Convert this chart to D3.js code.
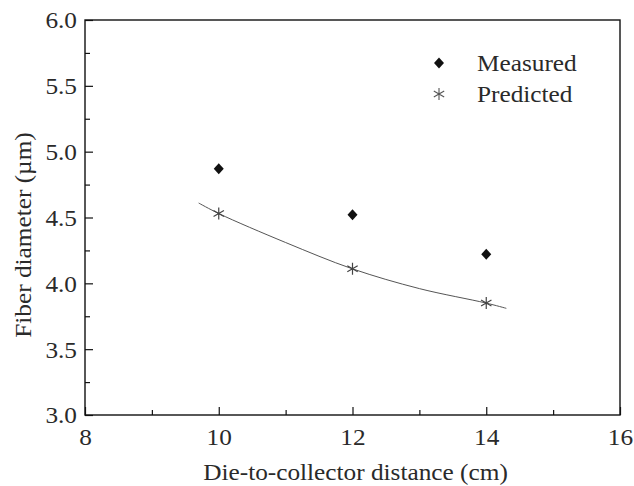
<!DOCTYPE html>
<html>
<head>
    <meta charset="utf-8">
    <title>Fiber diameter vs distance</title>
    <script type="text/javascript" src="https://cdn.jsdelivr.net/npm/d3@7"></script>
    <style type="text/css">
        body { margin: 0; background: #fff; }
        svg { display: block; }
        text { font-family: "Liberation Serif", "Times New Roman", serif; fill: #2a2a2a; }
    </style>
</head>
<body>
<script type="text/javascript">
    // data
    var distance = [10, 12, 14];
    var measured = [4.87, 4.52, 4.22];
    var predicted = [4.53, 4.11, 3.85];
    // fitted curve through the predicted values (read at a few x positions)
    var fitX = [9.7, 10, 11, 12, 13, 14, 14.3];
    var fitY = [4.61, 4.53, 4.31, 4.11, 3.96, 3.85, 3.81];
    var xTicks = [8, 10, 12, 14, 16];
    var xMinor = [9, 11, 13, 15];
    var yTicks = [3.0, 3.5, 4.0, 4.5, 5.0, 5.5, 6.0];
    var yMinor = [3.25, 3.75, 4.25, 4.75, 5.25, 5.75];
    var legendNames = ["Measured", "Predicted"];

    var w = 634, h = 486;
    var m = {left: 85, right: 620, top: 20, bottom: 415};
    var fontSize = "23px";
    var stretch = 1.1; // the source font is drawn a bit wide

    var svg = d3.select("body").append("svg")
        .attr("width", w)
        .attr("height", h);

    var x = d3.scaleLinear().domain([8, 16]).range([m.left, m.right]);
    var y = d3.scaleLinear().domain([3, 6]).range([m.bottom, m.top]);

    // frame
    svg.append("rect")
        .attr("x", m.left).attr("y", m.top)
        .attr("width", m.right - m.left).attr("height", m.bottom - m.top)
        .attr("fill", "none").attr("stroke", "#111").attr("stroke-width", 1.4);

    // axes, ticks pointing inward
    var xAxis = svg.append("g").attr("transform", "translate(0," + m.bottom + ")")
        .call(d3.axisBottom(x).tickValues(xTicks).tickSizeInner(-8).tickSizeOuter(0)
            .tickFormat(d3.format("d")));
    svg.append("g").attr("transform", "translate(0," + m.bottom + ")")
        .call(d3.axisBottom(x).tickValues(xMinor).tickSize(-5).tickFormat(""));

    var yAxis = svg.append("g").attr("transform", "translate(" + m.left + ",0)")
        .call(d3.axisLeft(y).tickValues(yTicks).tickSizeInner(-8).tickSizeOuter(0)
            .tickFormat(d3.format(".1f")));
    svg.append("g").attr("transform", "translate(" + m.left + ",0)")
        .call(d3.axisLeft(y).tickValues(yMinor).tickSize(-5).tickFormat(""));

    svg.selectAll(".domain").remove();
    svg.selectAll(".tick line").attr("stroke", "#111").attr("stroke-width", 1.2);
    svg.selectAll(".tick text")
        .style("font-family", '"Liberation Serif", "Times New Roman", serif')
        .style("font-size", fontSize).attr("fill", "#2a2a2a")
        .attr("transform", "scale(" + stretch + ",1)");
    xAxis.selectAll(".tick text").attr("y", 14).attr("dy", "0.71em");
    yAxis.selectAll(".tick text").attr("x", -8 / stretch).attr("dy", "0.34em");

    // axis titles
    svg.append("text")
        .attr("transform", "translate(" + ((m.left + m.right) / 2 + 3) + ",480) scale(" + stretch + ",1)")
        .attr("text-anchor", "middle")
        .style("font-size", fontSize)
        .text("Die-to-collector distance (cm)");

    svg.append("text")
        .attr("transform", "translate(31,235) rotate(-90) scale(" + stretch + ",1)")
        .attr("text-anchor", "middle")
        .style("font-size", fontSize)
        .text("Fiber diameter (\u00b5m)");

    // fit curve
    var line = d3.line()
        .x(function (d) { return x(d[0]); })
        .y(function (d) { return y(d[1]); })
        .curve(d3.curveCatmullRom);
    svg.append("path")
        .datum(d3.zip(fitX, fitY))
        .attr("d", line)
        .attr("fill", "none").attr("stroke", "#555").attr("stroke-width", 1);

    var diamond = "M0,-5.5L5,0L0,5.5L-5,0Z";
    var star = "M0,-6V6M-5.2,-3L5.2,3M-5.2,3L5.2,-3";

    // measured
    svg.selectAll(".measured")
        .data(d3.zip(distance, measured))
        .enter().append("path")
        .attr("class", "measured")
        .attr("transform", function (d) { return "translate(" + x(d[0]) + "," + y(d[1]) + ")"; })
        .attr("d", diamond)
        .attr("fill", "#111");

    // predicted
    svg.selectAll(".predicted")
        .data(d3.zip(distance, predicted))
        .enter().append("path")
        .attr("class", "predicted")
        .attr("transform", function (d) { return "translate(" + x(d[0]) + "," + y(d[1]) + ")"; })
        .attr("d", star)
        .attr("fill", "none").attr("stroke", "#444").attr("stroke-width", 1.2);

    // legend
    var legend = svg.append("g");
    legend.append("path").attr("transform", "translate(439,63)").attr("d", diamond).attr("fill", "#111");
    legend.append("path").attr("transform", "translate(439,94)").attr("d", star)
        .attr("fill", "none").attr("stroke", "#555").attr("stroke-width", 1.1);
    legend.selectAll("text")
        .data(legendNames)
        .enter().append("text")
        .attr("transform", function (d, i) { return "translate(477," + (71 + i * 31) + ") scale(" + stretch + ",1)"; })
        .style("font-size", fontSize)
        .text(function (d) { return d; });
</script>
</body>
</html>
